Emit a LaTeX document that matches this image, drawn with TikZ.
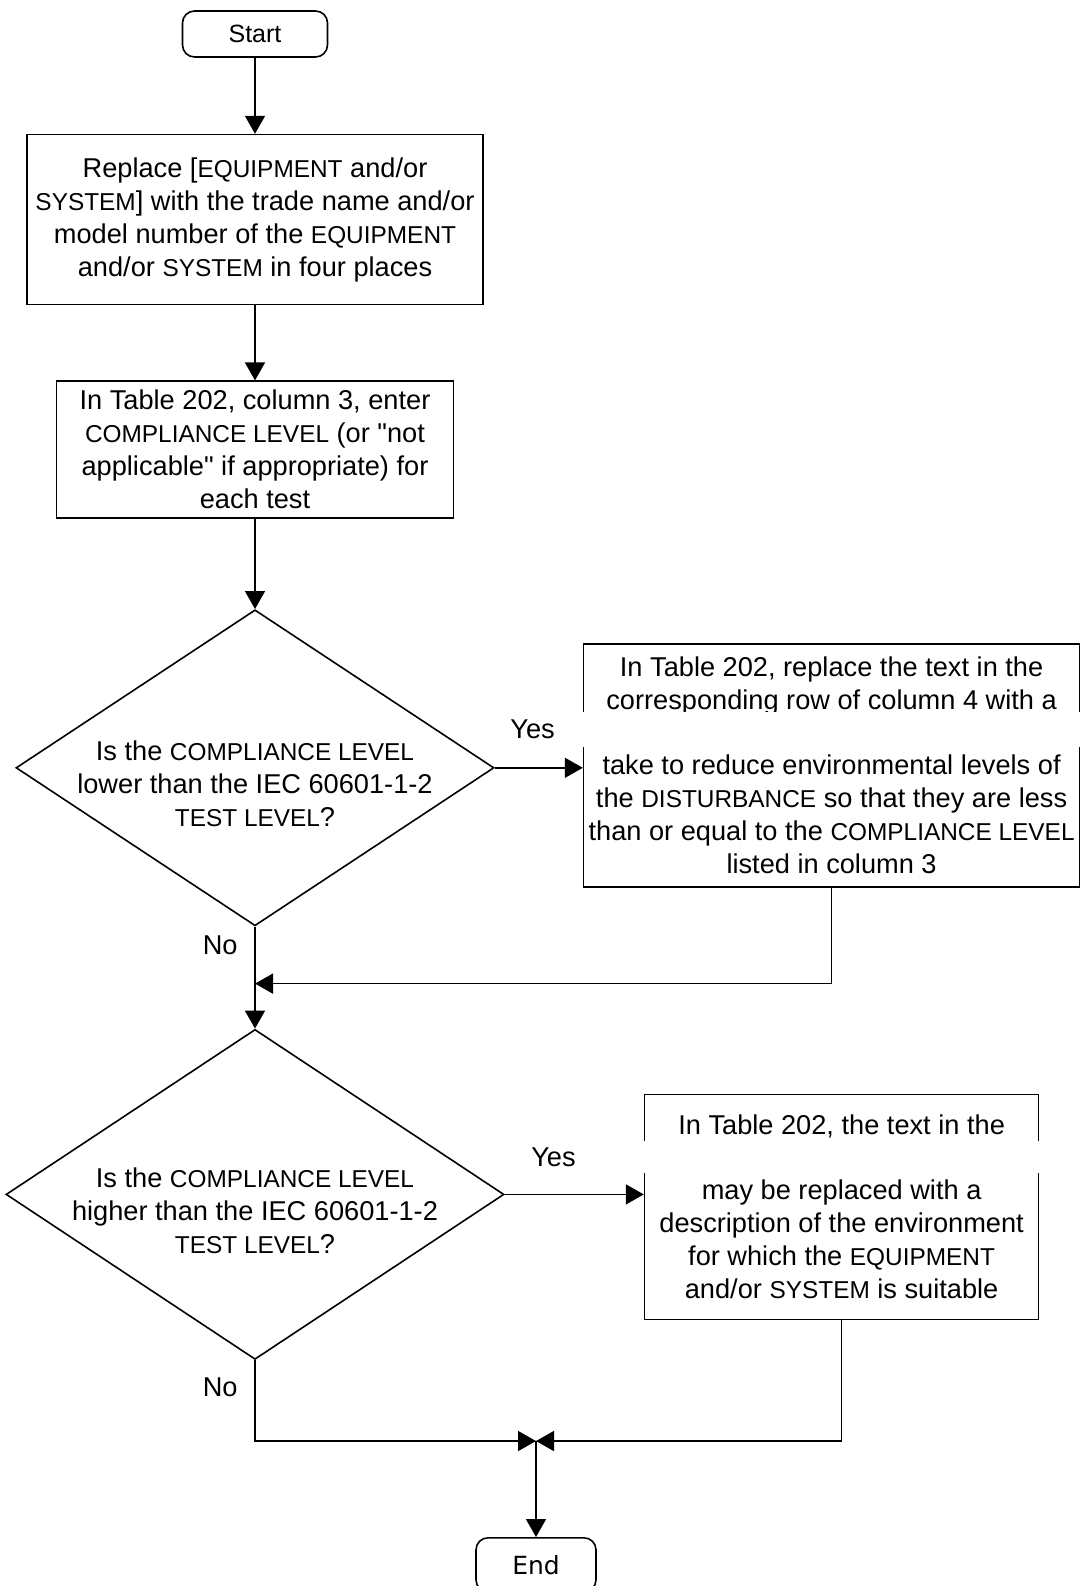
\documentclass[tikz,border=0pt]{standalone}
\usepackage{fontspec}
\setmainfont{Liberation Sans}
\newfontfamily\endfont{DejaVu Sans}
\usepackage{tikz}
\usetikzlibrary{positioning,shapes.geometric,arrows.meta}

\newcommand{\term}[1]{{\fontsize{12.2pt}{16.5pt}\selectfont #1}}

\tikzset{
    flowbox/.style={draw, line width=0.8pt, align=center, inner sep=0pt, fill=white},
    decision/.style={draw, diamond, line width=0.8pt, inner sep=0pt, fill=white},
    qtext/.style={align=center, inner sep=0pt, yshift=-8pt},
    flow/.style={line width=0.8pt, -{Triangle[length=9pt,width=10pt]}},
}

\begin{document}
\begin{tikzpicture}[every node/.style={font=\fontsize{13.6pt}{16.5pt}\selectfont}]

    \useasboundingbox (0,0) rectangle (540.5pt,-793pt);

    \node[draw,
        rounded corners=6pt,
        line width=0.8pt,
        minimum height=23pt,
        minimum width=72.5pt,
        font=\fontsize{12.5pt}{15pt}\selectfont]
        (start) at (127.5pt,-17pt) {Start};

    \node[flowbox,
        minimum height=85pt,
        minimum width=228pt,
        below=38pt of start]
        (replace) {Replace [\term{EQUIPMENT} and/or\\
        \term{SYSTEM}] with the trade name and/or\\
        model number of the \term{EQUIPMENT}\\
        and/or \term{SYSTEM} in four places};

    \node[flowbox,
        minimum height=68.5pt,
        minimum width=198.5pt,
        below=37.5pt of replace]
        (entry) {In Table 202, column 3, enter\\
        \term{COMPLIANCE LEVEL} (or \textquotedbl not\\
        applicable\textquotedbl{} if appropriate) for\\
        each test};

    \node[decision,
        minimum height=158pt,
        minimum width=239pt,
        below=45pt of entry,
        label={[qtext]center:{Is the \term{COMPLIANCE LEVEL}\\
        lower than the IEC 60601-1-2\\
        \term{TEST LEVEL}?}}]
        (lower) {};

    \node[flowbox,
        minimum height=121.5pt,
        minimum width=248pt,
        right=44pt of lower,
        yshift=1.25pt]
        (reduce) {In Table 202, replace the text in the\\
        corresponding row of column 4 with a\\[16pt]
        take to reduce environmental levels of\\
        the \term{DISTURBANCE} so that they are less\\
        than or equal to the \term{COMPLIANCE LEVEL}\\
        listed in column 3};

    \node[decision,
        minimum height=165pt,
        minimum width=249pt,
        below=51pt of lower,
        label={[qtext]center:{Is the \term{COMPLIANCE LEVEL}\\
        higher than the IEC 60601-1-2\\
        \term{TEST LEVEL}?}}]
        (higher) {};

    \node[flowbox,
        minimum height=112.5pt,
        minimum width=197pt,
        right=69.5pt of higher,
        yshift=-6.25pt]
        (note) {In Table 202, the text in the\\[16pt]
        may be replaced with a\\
        description of the environment\\
        for which the \term{EQUIPMENT}\\
        and/or \term{SYSTEM} is suitable};

    \fill[white] (288pt,-356pt) rectangle (542pt,-373.5pt);
    \fill[white] (318pt,-570.5pt) rectangle (522pt,-586.5pt);

    \coordinate (merge) at ([yshift=-28.5pt]lower.south);
    \coordinate (join) at (268pt,-720.5pt);

    \node[draw,
        rounded corners=6pt,
        line width=0.8pt,
        minimum height=27pt,
        minimum width=60pt,
        below=48pt of join,
        font=\endfont\fontsize{12.5pt}{15pt}\selectfont]
        (finish) {End};

    \draw[flow] (start.south) -- (replace.north);

    \draw[flow] (replace.south) -- (entry.north);

    \draw[flow] (entry.south) -- (lower.north);

    \draw[flow] (lower.east) -- (lower.east -| reduce.west)
        node[pos=0.43,above=11pt]{Yes};

    \draw[flow] (reduce.south) |- (merge);

    \draw[flow] (lower.south) -- (higher.north)
        node[pos=0.18,left=5pt]{No};

    \draw[flow] (higher.east) -- (higher.east -| note.west)
        node[pos=0.35,above=10pt]{Yes};

    \draw[flow] (higher.south) |- (join)
        node[pos=0.17,left=5pt]{No};

    \draw[flow] (note.south) |- (join);

    \draw[flow] (join) -- (finish.north);

\end{tikzpicture}
\end{document}
